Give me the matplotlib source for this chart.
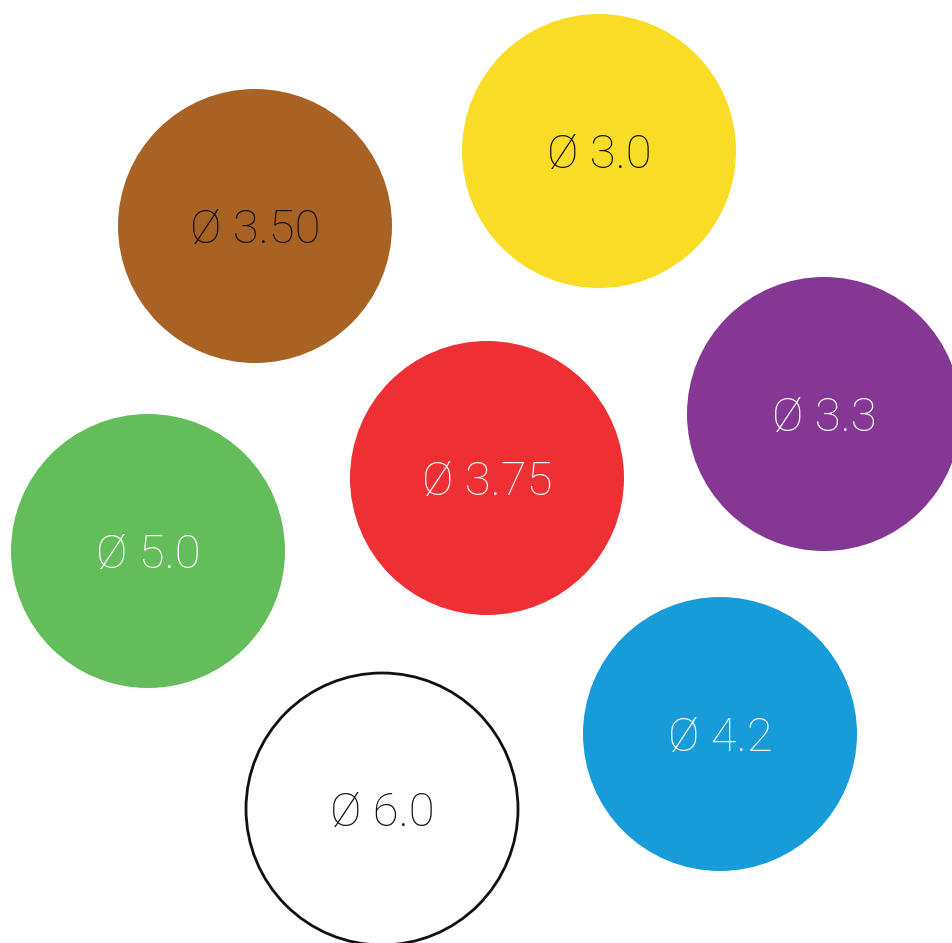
import matplotlib
matplotlib.use("Agg")
import matplotlib.pyplot as plt
from matplotlib.patches import Circle

labels = ["Ø 3.50", "Ø 3.0", "Ø 3.3", "Ø 3.75", "Ø 5.0", "Ø 4.2", "Ø 6.0"]
cx = [255, 599, 824, 487, 148, 720, 382]
cy = [226, 151, 414, 478, 551, 734, 809]
radius = [137, 137, 137, 137, 137, 137, 136]
fills = ["#A86224", "#F9DC26", "#853893", "#EE2F33", "#62BD5A", "#189CD9", "#FFFFFF"]
text_colors = ["#111111", "#111111", "#FFFFFF", "#FFFFFF", "#FFFFFF", "#FFFFFF", "#111111"]
edges = [None, None, None, None, None, None, "#111111"]

fig = plt.figure(figsize=(9.52, 9.43), dpi=100)
ax = fig.add_axes([0, 0, 1, 1])
ax.set_xlim(0, 952)
ax.set_ylim(943, 0)
ax.set_aspect("equal")
ax.axis("off")

for lab, x, y, r, fc, tc, ec in zip(labels, cx, cy, radius, fills, text_colors, edges):
    if ec is None:
        c = Circle((x, y), r, facecolor=fc, edgecolor="none")
    else:
        c = Circle((x, y), r, facecolor=fc, edgecolor=ec, linewidth=2.0)
    ax.add_patch(c)
    ax.text(x, y + 4, lab, color=tc, ha="center", va="center",
            fontsize=34, family="Roboto", fontweight="light")

fig.savefig("out.png", dpi=100)
